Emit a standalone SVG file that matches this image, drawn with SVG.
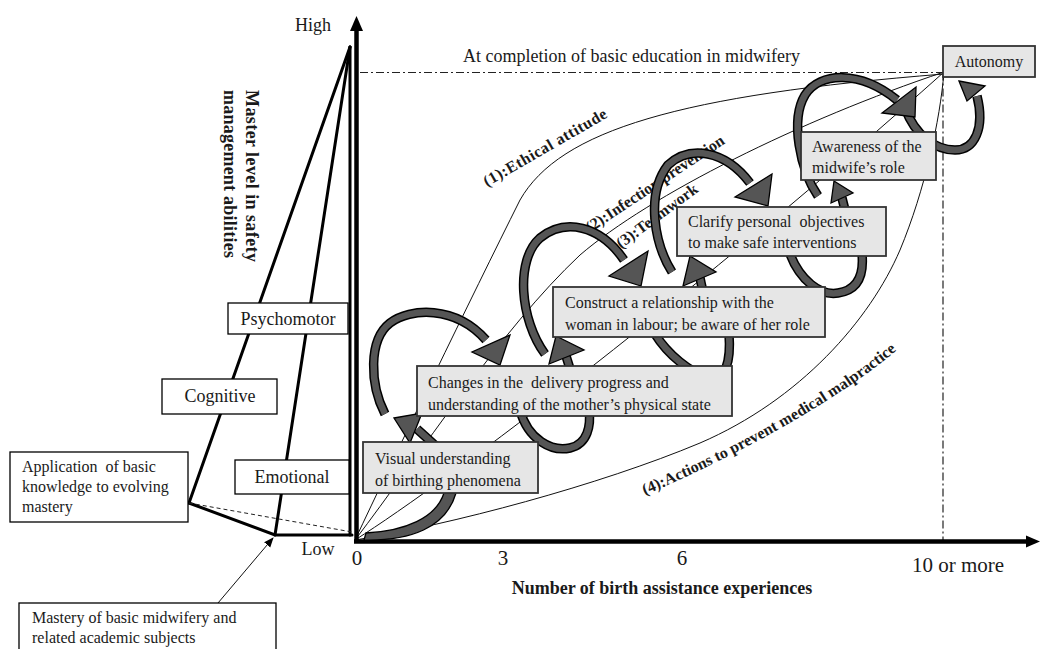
<svg xmlns="http://www.w3.org/2000/svg" width="1040" height="649" viewBox="0 0 1040 649">
<defs>
<style>
text { font-family: "Liberation Serif", "Times New Roman", serif; fill: #1a1a1a; }
.t16 { font-size: 16px; }
.t18 { font-size: 18px; }
.num { font-size: 21px; }
.b { font-weight: bold; }
.lbl { font-size: 16px; font-weight: bold; }
.thin { fill: none; stroke: #111; stroke-width: 1; }
.tri { fill: none; stroke: #000; stroke-width: 3; stroke-linecap: round; }
.dash { fill: none; stroke: #222; stroke-width: 1; stroke-dasharray: 4 3; }
.dd { fill: none; stroke: #222; stroke-width: 1.2; stroke-dasharray: 8 3 2 3; }
.axis { fill: none; stroke: #000; stroke-width: 4.5; }
.rib-o { fill: none; stroke: #000; stroke-width: 9.5; }
.rib-i { fill: none; stroke: #555; stroke-width: 6.5; }
.head { fill: #555; stroke: #000; stroke-width: 1.3; stroke-linejoin: miter; }
.box { fill: #e6e6e6; stroke: #333; stroke-width: 1.8; }
.wbox { fill: #fff; stroke: #000; stroke-width: 1.3; }
</style>
<marker id="ah" markerWidth="10" markerHeight="10" refX="9" refY="5" orient="auto" markerUnits="userSpaceOnUse">
<path d="M0,1 L10,5 L0,9 Z" fill="#000"/>
</marker>
<path id="p4" d="M645,495 C700,472 830,410 905,343"/>
<path id="s1" d="M438,448 L417,429"/>
<path id="L1" d="M385,414 C370,385 368,340 390,323 C410,308 455,305 486,340"/>
<path id="U2" d="M520,410 C528,440 552,452 570,448 C588,444 591,425 589,410"/>
<path id="s2" d="M571,372 L566,356"/>
<path id="L2" d="M545,354 C520,320 515,260 540,238 C565,218 600,225 624,260"/>
<path id="U3" d="M655,334 C668,355 690,372 708,378 C726,383 731,360 729,334"/>
<path id="s3" d="M703,292 L700,278"/>
<path id="L3" d="M672,272 C655,245 645,195 668,165 C690,145 725,150 750,183"/>
<path id="U4" d="M790,254 C800,280 820,296 838,293 C858,290 864,275 862,254"/>
<path id="s4" d="M845,210 L842,198"/>
<path id="L4" d="M818,196 C800,170 790,120 805,95 C820,72 860,70 897,100"/>
<path id="R5" d="M905,108 C915,135 935,150 955,150 C975,150 985,128 977,96"/>
</defs>

<g id="guides">
<path class="dd" d="M360,72.5 L943,72.5"/>
<path class="dd" d="M943,72.5 L943,540"/>
</g>

<g id="connectors">
<path class="thin" d="M355,540 C395,455 470,300 520,200 C560,130 680,95 944,74"/>
<path class="thin" d="M355,540 C420,455 500,330 580,255 C650,195 800,120 944,72"/>
<path class="thin" d="M355,540 C450,480 700,290 944,72"/>
<path class="thin" d="M355,540 C450,525 600,485 700,443 C800,400 870,320 900,250 C925,190 940,120 944,72"/>
<path class="tri" d="M350,47 L189,503"/>
<path class="tri" d="M350,47 L275,535"/>
<path class="tri" d="M350,47 L350,535"/>
<path class="tri" d="M189,503 L275,535 L352,535" stroke-width="3.5"/>
<path class="dash" d="M189,503 L352,532"/>
<path fill="none" stroke="#111" stroke-width="1" marker-end="url(#ah)" d="M218,603 L273,538"/>
<path class="axis" d="M356.5,541.5 L356.5,28"/>
<path d="M350,31 L356.5,16 L363,31 Z" fill="#000"/>
<path class="axis" d="M354,541.5 L1028,541.5"/>
<path d="M1026,535.5 L1040,541.5 L1026,547.5 Z" fill="#000"/>
</g>

<g id="curve-labels">
<text class="lbl" transform="translate(487,187) rotate(-30)" textLength="140" lengthAdjust="spacing">(1):Ethical attitude</text>
<text class="lbl" transform="translate(590,233) rotate(-33.5)">(2):Infection prevention</text>
<text class="lbl" transform="translate(621,249) rotate(-36.5)">(3):Teamwork</text>
<text class="lbl"><textPath href="#p4">(4):Actions to prevent medical malpractice</textPath></text>
</g>

<g id="spiral">
<path class="head" d="M364,540 C410,541 446,528 456,493 L444,493 C436,518 405,531 366,533 Z"/>
<use href="#s1" class="rib-o"/><use href="#s1" class="rib-i"/>
<polygon class="head" points="394,418 422,413 410,443"/>
<use href="#L1" class="rib-o"/><use href="#L1" class="rib-i"/>
<polygon class="head" points="500,365 510,335 472,352"/>
<use href="#U2" class="rib-o"/><use href="#U2" class="rib-i"/>
<use href="#s2" class="rib-o"/><use href="#s2" class="rib-i"/>
<polygon class="head" points="556,336 584,350 549,364"/>
<use href="#L2" class="rib-o"/><use href="#L2" class="rib-i"/>
<polygon class="head" points="641,286 648,251 609,276"/>
<use href="#U3" class="rib-o"/><use href="#U3" class="rib-i"/>
<use href="#s3" class="rib-o"/><use href="#s3" class="rib-i"/>
<polygon class="head" points="690,256 716,272 683,286"/>
<use href="#L3" class="rib-o"/><use href="#L3" class="rib-i"/>
<polygon class="head" points="768,206 772,174 735,197"/>
<use href="#U4" class="rib-o"/><use href="#U4" class="rib-i"/>
<use href="#s4" class="rib-o"/><use href="#s4" class="rib-i"/>
<polygon class="head" points="834,181 853,193 831,203"/>
<use href="#R5" class="rib-o"/><use href="#R5" class="rib-i"/>
<use href="#L4" class="rib-o"/><use href="#L4" class="rib-i"/>
<polygon class="head" points="915,117 916,87 882,113"/>
<polygon class="head" points="959,81 985,86 967,101"/>
</g>

<g id="n-visual">
<rect class="box" x="363" y="442" width="175" height="51"/>
<text class="t16" x="375" y="464">Visual understanding</text>
<text class="t16" x="375" y="486">of birthing phenomena</text>
</g>
<g id="n-changes">
<rect class="box" x="417" y="366" width="315" height="50"/>
<text class="t16" x="428" y="388" xml:space="preserve">Changes in the  delivery progress and</text>
<text class="t16" x="428" y="410">understanding of the mother’s physical state</text>
</g>
<g id="n-construct">
<rect class="box" x="553" y="287" width="272" height="50"/>
<text class="t16" x="565" y="308">Construct a relationship with the</text>
<text class="t16" x="565" y="330">woman in labour; be aware of her role</text>
</g>
<g id="n-clarify">
<rect class="box" x="677" y="207" width="209" height="49"/>
<text class="t16" x="688" y="227" xml:space="preserve">Clarify personal  objectives</text>
<text class="t16" x="688" y="248">to make safe interventions</text>
</g>
<g id="n-awareness">
<rect class="box" x="801" y="132" width="135" height="48"/>
<text class="t16" x="812" y="152">Awareness of the</text>
<text class="t16" x="812" y="173">midwife’s role</text>
</g>
<g id="n-autonomy">
<rect class="box" x="943" y="46" width="92" height="31"/>
<text class="t16" x="989" y="67" text-anchor="middle">Autonomy</text>
</g>

<g id="n-psychomotor">
<rect class="wbox" x="228" y="303" width="120" height="31"/>
<text class="t18" x="288" y="325" text-anchor="middle">Psychomotor</text>
</g>
<g id="n-cognitive">
<rect class="wbox" x="162" y="379" width="115" height="35"/>
<text class="t18" x="220" y="402" text-anchor="middle">Cognitive</text>
</g>
<g id="n-emotional">
<rect class="wbox" x="235" y="460" width="114" height="34"/>
<text class="t18" x="292" y="483" text-anchor="middle">Emotional</text>
</g>
<g id="n-application">
<rect class="wbox" x="10" y="452" width="178" height="70"/>
<text class="t16" x="22" y="472" xml:space="preserve">Application  of basic</text>
<text class="t16" x="22" y="492">knowledge to evolving</text>
<text class="t16" x="22" y="512">mastery</text>
</g>
<g id="n-mastery">
<rect class="wbox" x="19" y="603" width="257" height="54" stroke-width="2.5"/>
<text class="t16" x="32" y="623">Mastery of basic midwifery and</text>
<text class="t16" x="32" y="643">related academic subjects</text>
</g>

<g id="axis-labels">
<text class="t18" x="313" y="31" text-anchor="middle">High</text>
<text class="t18" x="318" y="555" text-anchor="middle">Low</text>
<text class="num" x="357" y="565" text-anchor="middle">0</text>
<text class="num" x="503" y="565" text-anchor="middle">3</text>
<text class="num" x="682" y="565" text-anchor="middle">6</text>
<text class="num" x="912" y="572">10 or more</text>
<text class="t18 b" x="662" y="594" text-anchor="middle">Number of birth assistance experiences</text>
<text class="t18" x="463" y="62">At completion of basic education in midwifery</text>
<g transform="translate(246,90) rotate(90)">
<text class="t18 b" x="0" y="0" textLength="172" lengthAdjust="spacing">Master level in safety</text>
<text class="t18 b" x="0" y="22" textLength="168" lengthAdjust="spacing">management abilities</text>
</g>
</g>
</svg>
